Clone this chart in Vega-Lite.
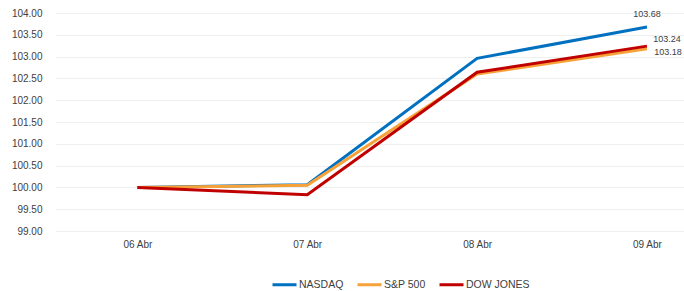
{
  "$schema": "https://vega.github.io/schema/vega-lite/v6.json",
  "autosize": "none",
  "width": 629,
  "height": 218,
  "padding": {"left": 55, "top": 13, "right": 0, "bottom": 60},
  "config": {
    "view": {"stroke": null},
    "font": "Liberation Sans",
    "axis": {"labelFont": "Liberation Sans", "labelFontSize": 10, "labelColor": "#404040"},
    "legend": {"labelFont": "Liberation Sans", "labelFontSize": 10.5, "labelColor": "#404040"}
  },
  "data": {
    "values": [
      {"dia": 6, "serie": "NASDAQ", "valor": 100.00},
      {"dia": 7, "serie": "NASDAQ", "valor": 100.06},
      {"dia": 8, "serie": "NASDAQ", "valor": 102.96},
      {"dia": 9, "serie": "NASDAQ", "valor": 103.68},
      {"dia": 6, "serie": "S&P 500", "valor": 100.00},
      {"dia": 7, "serie": "S&P 500", "valor": 100.05},
      {"dia": 8, "serie": "S&P 500", "valor": 102.60},
      {"dia": 9, "serie": "S&P 500", "valor": 103.18},
      {"dia": 6, "serie": "DOW JONES", "valor": 100.00},
      {"dia": 7, "serie": "DOW JONES", "valor": 99.83},
      {"dia": 8, "serie": "DOW JONES", "valor": 102.64},
      {"dia": 9, "serie": "DOW JONES", "valor": 103.24}
    ]
  },
  "encoding": {
    "x": {
      "field": "dia", "type": "quantitative",
      "scale": {"domain": [5.515, 9.218], "zero": false, "nice": false},
      "axis": {"title": null, "values": [6, 7, 8, 9], "labelExpr": "'0' + datum.value + ' Abr'", "domain": false, "ticks": false, "labelPadding": 8, "grid": false, "labelFlush": false}
    },
    "y": {
      "field": "valor", "type": "quantitative",
      "scale": {"domain": [99, 104], "zero": false, "nice": false},
      "axis": {"title": null, "format": ".2f", "values": [99, 99.5, 100, 100.5, 101, 101.5, 102, 102.5, 103, 103.5, 104], "domain": false, "ticks": false, "labelPadding": 13, "gridColor": "#efefef", "gridWidth": 1}
    }
  },
  "layer": [
    {
      "mark": {"type": "line", "strokeWidth": 3},
      "encoding": {
        "color": {
          "field": "serie", "type": "nominal",
          "scale": {"domain": ["NASDAQ", "S&P 500", "DOW JONES"], "range": ["#0070C0", "#F7A238", "#C00000"]},
          "legend": {
            "title": null, "orient": "none", "direction": "horizontal",
            "legendX": 216, "legendY": 258,
            "symbolType": "stroke", "symbolSize": 576, "symbolStrokeWidth": 3,
            "labelOffset": 1, "columnPadding": 7
          }
        },
        "order": {"field": "serie"}
      }
    },
    {
      "transform": [{"filter": "datum.dia == 9 && datum.serie == 'NASDAQ'"}],
      "mark": {"type": "text", "fontSize": 9, "color": "#404040", "dx": 0, "dy": -13},
      "encoding": {"text": {"field": "valor", "type": "quantitative", "format": ".2f"}}
    },
    {
      "transform": [{"filter": "datum.dia == 9 && datum.serie == 'DOW JONES'"}],
      "mark": {"type": "text", "fontSize": 9, "color": "#404040", "dx": 20, "dy": -7},
      "encoding": {"text": {"field": "valor", "type": "quantitative", "format": ".2f"}}
    },
    {
      "transform": [{"filter": "datum.dia == 9 && datum.serie == 'S&P 500'"}],
      "mark": {"type": "text", "fontSize": 9, "color": "#404040", "dx": 21, "dy": 3},
      "encoding": {"text": {"field": "valor", "type": "quantitative", "format": ".2f"}}
    }
  ]
}
